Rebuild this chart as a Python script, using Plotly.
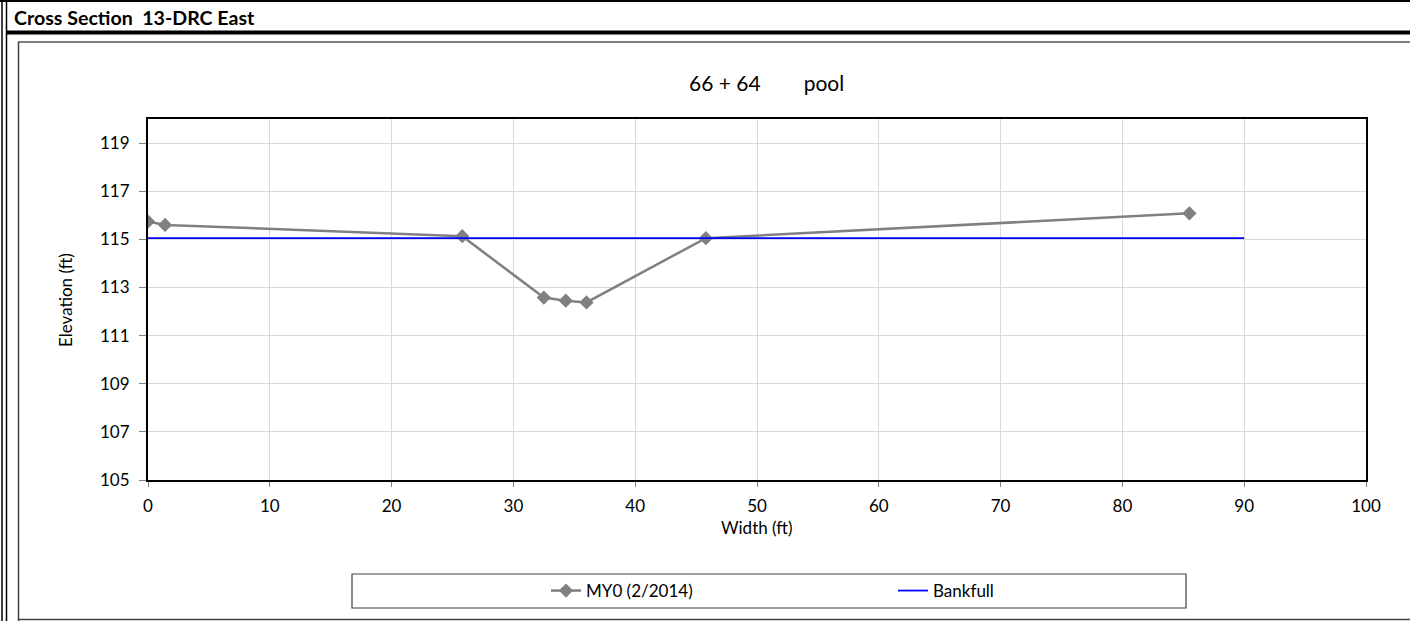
import plotly.graph_objects as go

# ---- data ----
width_ft = [0.0, 1.4, 25.8, 32.5, 34.3, 36.0, 45.8, 85.5]
elev_ft = [115.74, 115.6, 115.13, 112.58, 112.45, 112.38, 115.05, 116.08]
bankfull_x = [0.0, 90.0]
bankfull_y = [115.05, 115.05]
x_ticks = [0, 10, 20, 30, 40, 50, 60, 70, 80, 90, 100]
y_ticks = [105, 107, 109, 111, 113, 115, 117, 119]

W, H = 1410, 621
L, R, T, B = 148, 1366, 119, 480
FONT = "Lato"


def px(x):
    return (x - L) / (R - L)


def py(y):
    return (B - y) / (B - T)


fig = go.Figure()
fig.add_trace(go.Scatter(
    x=width_ft, y=elev_ft, mode="lines+markers", name="MY0 (2/2014)",
    line=dict(color="#808080", width=2.5),
    marker=dict(symbol="diamond", size=11, color="#808080"),
))
fig.add_trace(go.Scatter(
    x=bankfull_x, y=bankfull_y, mode="lines", name="Bankfull",
    line=dict(color="#0000ff", width=1.8),
))

shapes = []


def hline(y, x0, x1, color, w):
    shapes.append(dict(type="line", xref="paper", yref="paper",
                       x0=px(x0), x1=px(x1), y0=py(y), y1=py(y),
                       line=dict(color=color, width=w)))


def vline(x, y0, y1, color, w):
    shapes.append(dict(type="line", xref="paper", yref="paper",
                       x0=px(x), x1=px(x), y0=py(y0), y1=py(y1),
                       line=dict(color=color, width=w)))


# outer frame
vline(2, 0, H, "black", 1.5)
vline(6.5, 0, H, "black", 1.5)
hline(1, 0, W, "black", 2)
hline(32.5, 6, W, "black", 4)
# inner chart box
hline(42, 18, W, "#7f7f7f", 2)
vline(18.5, 42, H, "#404040", 1.5)
hline(619.5, 18, W, "#404040", 1.5)
# legend box
shapes.append(dict(type="rect", xref="paper", yref="paper",
                   x0=px(352), x1=px(1186), y0=py(574), y1=py(608),
                   line=dict(color="#404040", width=1.2), fillcolor="rgba(0,0,0,0)"))

annotations = [
    dict(text="<b>Cross Section  13-DRC East</b>", xref="paper", yref="paper",
         x=px(12), y=py(17), xanchor="left", yanchor="middle", showarrow=False,
         font=dict(family=FONT, size=19.6, color="black")),
    dict(text="66 + 64\u00a0\u00a0\u00a0\u00a0\u00a0\u00a0\u00a0\u00a0pool", xref="paper", yref="paper",
         x=px(766), y=py(82), xanchor="center", yanchor="middle", showarrow=False,
         font=dict(family=FONT, size=21, color="black")),
    dict(text="Width (ft)", xref="paper", yref="paper",
         x=px(757), y=py(527), xanchor="center", yanchor="middle", showarrow=False,
         font=dict(family=FONT, size=17, color="black")),
    dict(text="Elevation (ft)", xref="paper", yref="paper", textangle=-90,
         x=px(65), y=py(300), xanchor="center", yanchor="middle", showarrow=False,
         font=dict(family=FONT, size=17, color="black")),
]

fig.update_layout(
    width=W, height=H,
    margin=dict(l=L, r=W - R, t=T, b=H - B, pad=0),
    paper_bgcolor="white", plot_bgcolor="white",
    font=dict(family=FONT, size=17, color="black"),
    shapes=shapes, annotations=annotations,
    showlegend=True,
    legend=dict(orientation="h", x=px(546), y=py(591), xanchor="left", yanchor="middle",
                entrywidth=302, entrywidthmode="pixels",
                font=dict(family=FONT, size=17, color="black"),
                bgcolor="rgba(0,0,0,0)", borderwidth=0),
)
fig.update_xaxes(range=[0, 100], tickvals=x_ticks, ticktext=[str(v) for v in x_ticks],
                 showgrid=True, gridcolor="#d9d9d9", gridwidth=1,
                 showline=True, linecolor="black", linewidth=2, mirror=True,
                 ticks="outside", ticklen=5, tickcolor="#808080", zeroline=False,
                 ticklabelstandoff=5,
                 tickfont=dict(family=FONT, size=17))
fig.update_yaxes(range=[105, 120], tickvals=y_ticks, ticktext=[str(v) for v in y_ticks],
                 showgrid=True, gridcolor="#d9d9d9", gridwidth=1,
                 showline=True, linecolor="black", linewidth=2, mirror=True,
                 ticks="outside", ticklen=7, tickcolor="#808080", zeroline=False,
                 ticklabelstandoff=6,
                 tickfont=dict(family=FONT, size=17))

fig.write_html("out.html")
